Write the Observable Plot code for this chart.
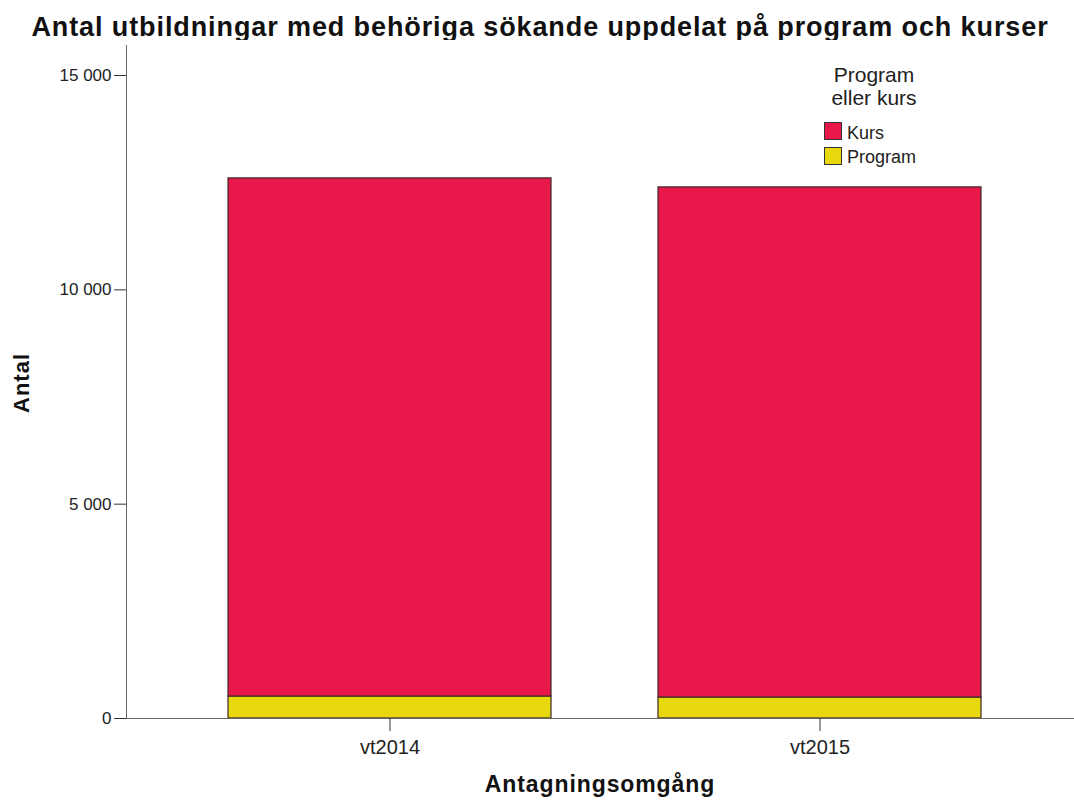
<!DOCTYPE html>
<html>
<head>
<meta charset="utf-8">
<script src="https://cdn.jsdelivr.net/npm/d3@7"></script>
<script src="https://cdn.jsdelivr.net/npm/@observablehq/plot@0.6"></script>
<style>
  html, body { margin: 0; padding: 0; background: #fff; }
  #wrap { position: relative; width: 1074px; height: 809px; font-family: "Liberation Sans", Arial, sans-serif; color: #222; overflow: hidden; }
  #title { position: absolute; left: 0; top: 14px; width: 1080px; text-align: center; font-weight: bold; font-size: 27px; letter-spacing: 0.9px; line-height: 1; color: #111; white-space: nowrap; }
  #chart { position: absolute; left: 0; top: 40px; }
  #ylab { position: absolute; left: 22px; top: 383px; transform: translate(-50%, -50%) rotate(-90deg); font-weight: bold; font-size: 22px; letter-spacing: 1px; line-height: 1; color: #111; white-space: nowrap; }
  #xlab { position: absolute; left: 600px; top: 773px; transform: translateX(-50%); font-weight: bold; font-size: 23px; letter-spacing: 0.9px; line-height: 1; color: #111; white-space: nowrap; }
  .lt { position: absolute; left: 874px; transform: translateX(-50%); font-size: 21px; line-height: 23px; color: #222; white-space: nowrap; text-align: center; }
  .sw { position: absolute; left: 824px; width: 16px; height: 16px; border: 1px solid #333; }
  .li { position: absolute; left: 847px; font-size: 18px; line-height: 19px; color: #222; white-space: nowrap; }
</style>
</head>
<body>
<div id="wrap">
  <div id="title">Antal utbildningar med behöriga sökande uppdelat på program och kurser</div>
  <div id="chart"></div>
  <div id="ylab">Antal</div>
  <div id="xlab">Antagningsomgång</div>
  <div id="legend"></div>
</div>
<script>
const rounds = ["vt2014", "vt2015"];
const types = ["Kurs", "Program"];
const kursValues = [12087, 11900];
const programValues = [513, 490];
const yTicks = [0, 5000, 10000, 15000];
const colors = ["#e8184b", "#e8d90e"];
const legendTitle = ["Program", "eller kurs"];

// Program first so it stacks at the bottom
const rows = [];
rounds.forEach((r, i) => rows.push({round: r, type: "Program", value: programValues[i]}));
rounds.forEach((r, i) => rows.push({round: r, type: "Kurs", value: kursValues[i]}));

const loc = d3.formatLocale({decimal: ",", thousands: "\u00a0", grouping: [3], currency: ["", ""]});
const fmt = loc.format(",d");

const plot = Plot.plot({
  width: 1074,
  height: 769,
  marginTop: 5,
  marginBottom: 91,
  marginLeft: 126,
  marginRight: 0,
  style: {fontFamily: "'Liberation Sans', Arial, sans-serif", color: "#222", background: "#fff", overflow: "visible"},
  x: {domain: rounds, paddingInner: 0.25, paddingOuter: 0.225, align: 0.52, label: null},
  y: {domain: [0, 15700], label: null},
  color: {domain: types, range: colors},
  marks: [
    Plot.barY(rows, {x: "round", y: "value", fill: "type", stroke: "#3b2a2a", strokeWidth: 1.2}),
    Plot.frame({anchor: "left", stroke: "#666"}),
    Plot.frame({anchor: "bottom", stroke: "#666"}),
    Plot.axisY({ticks: yTicks, tickFormat: fmt, tickSize: 12, tickPadding: 3, fontSize: 17, stroke: "#333", label: null}),
    Plot.axisX({tickSize: 13, tickPadding: 8, fontSize: 20, stroke: "#333", label: null})
  ]
});
document.getElementById("chart").appendChild(plot);

const leg = document.getElementById("legend");
leg.innerHTML = `<div class="lt" style="top:63px">${legendTitle.join("<br>")}</div>` +
  types.map((t, i) => `<div class="sw" style="top:${122 + 25 * i}px;background:${colors[i]}"></div><div class="li" style="top:${124 + 24 * i}px">${t}</div>`).join("");
</script>
</body>
</html>
